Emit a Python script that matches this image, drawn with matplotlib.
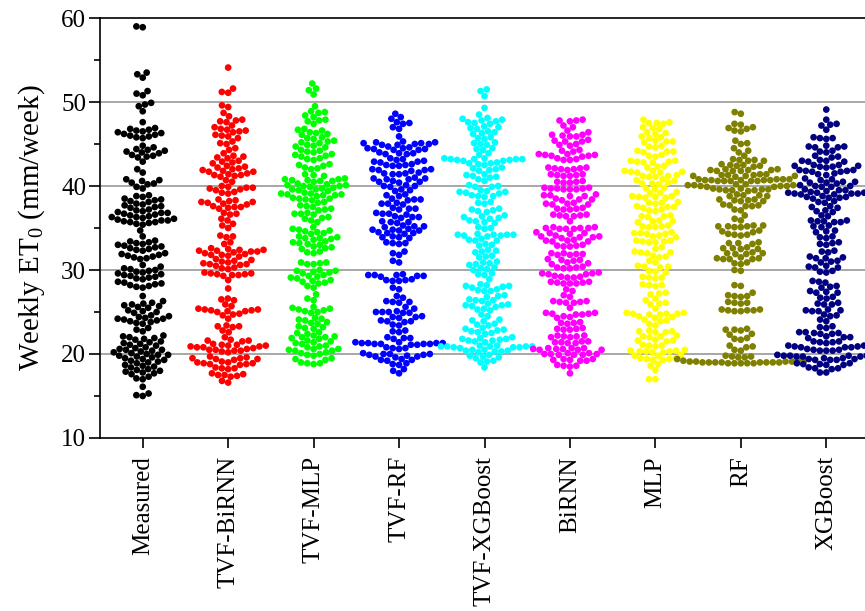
import numpy as np
import matplotlib
matplotlib.use('Agg')
import matplotlib.pyplot as plt

categories = ['Measured', 'TVF-BiRNN', 'TVF-MLP', 'TVF-RF', 'TVF-XGBoost',
              'BiRNN', 'MLP', 'RF', 'XGBoost']
colors = ['#000000', '#ff0000', '#00ff00', '#0000ff', '#00ffff',
          '#ff00ff', '#ffff00', '#808000', '#000080']

measured = [59.0, 58.9, 53.5, 53.3, 52.9, 51.3, 51.0, 50.8, 49.9, 49.7, 49.5, 48.9, 47.6,
            46.9, 46.8, 46.7, 46.6, 46.5, 46.4, 46.3, 46.2, 46.1, 46.0, 45.9, 45.8, 45.7,
            44.8, 44.6, 44.4, 44.3, 44.2, 44.1, 44.0, 43.9, 43.7, 43.6, 43.5, 43.4, 42.9,
            42.0, 41.6, 40.8, 40.7, 40.6, 40.4, 40.3, 40.2, 39.9, 39.7,
            38.9, 38.8, 38.7, 38.5, 38.4, 38.3, 38.2, 38.1, 37.9, 37.8, 37.7, 37.6, 37.5, 37.4,
            37.2, 37.1, 37.0, 36.9, 36.8, 36.8, 36.7, 36.6, 36.5, 36.4, 36.3, 36.3, 36.2,
            36.1, 36.0, 35.9, 35.9, 35.8, 35.7, 35.7, 35.6, 35.5, 35.4,
            34.7, 34.0, 33.5, 33.4, 33.3, 33.2, 33.1, 33.0, 32.9, 32.8, 32.7, 32.6, 32.5, 32.4,
            32.3, 32.0, 31.9, 31.8, 31.7, 31.6, 31.5, 31.4, 31.3, 30.6, 30.4,
            30.2, 30.1, 30.0, 29.9, 29.8, 29.7, 29.6, 29.5, 29.4, 29.3, 29.2, 29.1, 29.0, 28.9,
            28.6, 28.5, 28.4, 28.3, 28.2, 28.1, 28.0, 27.9, 26.9, 26.3, 26.1,
            26.0, 25.9, 25.8, 25.7, 25.6, 25.5, 25.2, 25.1, 25.0, 24.9,
            24.6, 24.5, 24.4, 24.3, 24.2, 24.2, 24.1, 24.0, 23.9, 23.8, 23.7, 23.6,
            23.1, 22.9, 22.7, 22.2, 22.1, 22.0, 21.9, 21.8, 21.7, 21.5, 21.4, 21.3, 21.2, 21.1, 21.0,
            20.8, 20.7, 20.6, 20.5, 20.5, 20.4, 20.3, 20.2, 20.1, 20.0, 19.9, 19.9, 19.8, 19.7,
            19.6, 19.5, 19.4, 19.3, 19.2, 19.1, 19.0, 18.9, 18.7, 18.6, 18.5, 18.4,
            18.2, 18.1, 18.0, 17.9, 17.8, 17.7, 17.6, 17.3, 17.1, 17.0, 16.1, 15.3, 15.1, 15.0]

tvf_birnn = [54.1, 51.6, 51.2, 51.1, 49.6, 49.4, 48.7, 48.3, 47.9, 47.8, 47.7, 47.6, 47.2, 47.0,
             46.8, 46.7, 46.6, 46.5, 46.4, 46.1, 46.0, 45.9, 45.7, 45.3, 45.1, 45.0, 44.5, 44.3,
             43.9, 43.6, 43.5, 43.4, 43.3, 43.0, 42.9, 42.8, 42.7, 42.4, 42.3, 42.2, 42.1, 42.0,
             41.9, 41.8, 41.7, 41.7, 41.5, 41.4, 41.3, 41.3, 41.2, 41.1, 40.7, 40.5,
             40.0, 39.9, 39.8, 39.8, 39.7, 39.6, 39.5, 39.3, 39.2, 39.1,
             38.4, 38.3, 38.2, 38.1, 38.1, 38.0, 37.9, 37.8, 37.6, 37.5, 37.5, 37.4, 37.3,
             36.8, 36.7, 36.6, 36.1, 35.9, 35.5, 35.3, 35.0, 34.1, 34.0, 33.9, 33.3, 33.1,
             32.6, 32.5, 32.4, 32.4, 32.3, 32.3, 32.2, 32.2, 32.1, 32.0,
             31.9, 31.8, 31.8, 31.7, 31.6, 31.3, 31.2, 31.1, 31.0,
             30.9, 30.8, 30.7, 30.7, 30.6, 30.5, 30.3, 30.2, 30.1,
             29.7, 29.6, 29.6, 29.5, 29.5, 29.4, 29.4, 29.3, 28.8, 27.8,
             26.6, 26.5, 26.4, 25.9, 25.7, 25.4, 25.3, 25.3, 25.2, 25.2, 25.1, 25.1, 25.0,
             24.8, 24.7, 24.6, 24.2, 23.4, 23.3, 23.3, 23.2, 22.8, 22.6, 22.0,
             21.7, 21.6, 21.6, 21.5, 21.2, 21.1, 21.1, 21.0, 21.0, 20.9, 20.9, 20.8, 20.8, 20.7,
             20.6, 20.5, 20.5, 20.4, 20.4, 20.3, 20.2,
             19.7, 19.6, 19.5, 19.5, 19.4, 19.4, 19.3, 19.1, 19.0, 19.0, 18.9, 18.9, 18.8, 18.8, 18.7,
             18.4, 18.3, 18.3, 18.2, 17.7, 17.6, 17.5, 17.5, 17.4, 17.3, 16.8, 16.6]

tvf_mlp = [52.2, 51.6, 51.4, 50.9, 49.5, 48.9, 48.8, 48.7, 48.4, 48.2, 47.9, 47.8, 47.7, 47.4,
           46.8, 46.7, 46.6, 46.4, 46.3, 46.2, 46.1, 45.8, 45.7, 45.6, 45.4, 45.3, 45.2, 45.1,
           44.9, 44.8, 44.7, 44.6, 44.3, 44.2, 44.1, 44.0, 43.8, 43.7, 43.6, 43.5, 43.3, 43.2, 43.1,
           42.6, 42.5, 42.4, 42.2, 42.1, 42.0, 41.4, 41.3, 41.2,
           40.9, 40.8, 40.8, 40.7, 40.7, 40.6, 40.6, 40.5, 40.3, 40.2, 40.1, 40.1, 40.0, 40.0, 39.9,
           39.8, 39.7, 39.6, 39.6, 39.5, 39.4, 39.2, 39.1, 39.1, 39.0, 39.0, 38.9, 38.9, 38.8,
           38.6, 38.5, 38.5, 38.4, 38.3, 38.1, 38.0, 37.7, 37.6, 37.5, 37.3, 37.2, 37.1,
           36.8, 36.7, 36.7, 36.6, 36.3, 36.2, 36.1, 35.9, 35.7, 35.1, 34.9,
           34.8, 34.7, 34.6, 34.5, 34.4, 34.3, 34.0, 33.9, 33.8, 33.8, 33.7, 33.6,
           33.4, 33.3, 33.2, 33.1, 33.0, 32.8, 32.7, 32.6, 32.5, 32.2, 32.1, 32.0,
           30.9, 30.9, 30.8, 30.7, 30.7, 30.0, 29.9, 29.9, 29.8, 29.7, 29.6,
           29.4, 29.3, 29.2, 29.1, 29.0, 28.8, 28.7, 28.6, 28.5, 28.4, 28.1, 27.9, 27.1, 26.6, 26.4,
           25.6, 25.5, 25.4, 25.3, 25.2, 25.1, 25.0, 24.9, 24.3, 24.2, 24.1, 24.0, 23.8, 23.7, 23.6,
           23.3, 23.2, 23.1, 23.0, 22.6, 22.5, 22.4, 22.2, 22.1, 22.0, 22.0, 21.9, 21.8,
           21.6, 21.5, 21.4, 21.3, 21.2, 21.0, 20.9, 20.8, 20.6, 20.6, 20.5, 20.4, 20.4,
           20.2, 20.1, 20.0, 19.9, 19.8, 19.5, 19.4, 19.3, 19.0, 18.9, 18.9, 18.8]

tvf_rf = [48.6, 48.2, 48.0, 47.6, 47.5, 47.4, 47.0, 46.8, 45.9,
          45.3, 45.2, 45.2, 45.1, 45.1, 45.0, 45.0, 44.9, 44.9,
          44.7, 44.6, 44.5, 44.5, 44.4, 44.4, 44.3, 44.3, 44.0, 43.9, 43.9, 43.8, 43.8,
          43.3, 43.2, 43.1, 43.0, 42.9, 42.9, 42.8, 42.6, 42.5, 42.5, 42.4, 42.4,
          42.0, 42.0, 41.9, 41.9, 41.8, 41.6, 41.5, 41.5, 41.4, 41.4,
          41.0, 40.9, 40.9, 40.8, 40.8, 40.6, 40.5, 40.5, 40.4, 40.1, 40.0, 40.0, 39.9,
          39.6, 39.5, 39.4, 39.0, 38.9, 38.8, 38.5, 38.4, 38.4, 38.3, 38.0, 37.9, 37.9, 37.8,
          37.4, 37.3, 37.3, 37.2, 36.8, 36.7, 36.7, 36.6, 36.4, 36.3, 36.3, 36.2,
          35.8, 35.7, 35.7, 35.6, 35.3, 35.2, 35.2, 35.1, 34.9, 34.8, 34.8, 34.7, 34.7,
          34.5, 34.4, 34.4, 34.3, 34.0, 33.9, 33.9, 33.8, 33.3, 33.2, 33.2, 33.1,
          32.2, 32.0, 31.8, 31.1, 30.9,
          29.5, 29.4, 29.4, 29.4, 29.3, 29.3, 29.2, 28.9, 28.8, 28.8, 28.7, 28.7, 27.9, 27.7,
          26.9, 26.7, 26.3, 26.2, 26.2, 26.1, 25.6, 25.4,
          25.1, 25.0, 25.0, 25.0, 24.9, 24.9, 24.5, 24.4, 24.4, 24.3, 24.0, 23.9, 23.9, 23.8,
          23.5, 23.4, 22.8, 22.7, 22.6, 22.0, 21.9, 21.9, 21.8,
          21.4, 21.4, 21.3, 21.3, 21.3, 21.3, 21.2, 21.2, 21.2, 21.2, 21.1, 21.1,
          20.8, 20.7, 20.7, 20.6, 20.1, 20.0, 20.0, 20.0, 19.9, 19.9, 19.8, 19.7, 19.7, 19.6,
          19.4, 19.3, 19.3, 19.2, 18.9, 18.8, 18.7, 18.2, 18.0, 17.7]

tvf_xgboost = [51.5, 51.3, 50.7, 49.3, 48.5, 48.1, 48.0, 47.9, 47.8, 47.7, 47.6, 47.5, 47.4,
               47.1, 47.0, 46.9, 46.8, 46.5, 46.4, 46.3, 46.2, 45.8, 45.7, 45.6,
               45.2, 45.1, 45.0, 44.9, 44.5, 44.4, 44.3, 43.9, 43.7,
               43.3, 43.3, 43.2, 43.2, 43.2, 43.2, 43.1, 43.1, 43.0, 43.0,
               42.8, 42.7, 42.7, 42.6, 42.5, 42.2, 42.1, 42.0, 41.9, 41.8,
               41.4, 41.3, 41.2, 41.1, 41.0, 40.8, 40.6, 40.1, 40.0, 39.9, 39.9,
               39.5, 39.4, 39.3, 39.3, 39.2, 39.1, 38.9, 38.8, 38.8, 38.7, 38.1, 38.0, 37.9,
               37.3, 37.2, 37.1, 37.0, 36.9, 36.5, 36.4, 36.3, 36.2, 36.1, 35.9, 35.8, 35.7, 35.6,
               35.1, 35.0, 34.9, 34.3, 34.2, 34.2, 34.2, 34.2, 34.1, 34.1, 34.0,
               33.7, 33.6, 33.5, 33.5, 33.1, 33.0, 32.9, 32.4, 32.3, 32.2, 32.1, 31.7, 31.6, 31.5,
               31.0, 30.9, 30.8, 30.7, 30.6, 30.3, 30.2, 30.1, 30.0, 29.6, 29.5, 29.4, 28.9,
               28.3, 28.2, 28.1, 28.1, 28.0, 27.9, 27.7, 27.6, 27.5, 27.5, 27.0, 26.9, 26.8,
               26.5, 26.4, 26.4, 26.3, 26.0, 25.9, 25.8, 25.8, 25.7, 25.6, 25.4, 25.3, 25.2,
               24.7, 24.5, 24.1, 24.0, 23.9, 23.6, 23.5, 23.4, 23.1, 23.0, 22.9, 22.8, 22.7,
               22.6, 22.5, 22.4, 22.0, 21.9, 21.8, 21.8, 21.7, 21.6, 21.6, 21.5, 21.4,
               21.0, 21.0, 20.9, 20.9, 20.9, 20.9, 20.9, 20.8, 20.8, 20.8, 20.7,
               20.5, 20.5, 20.4, 20.4, 20.3, 20.3, 20.2, 19.9, 19.8, 19.7, 19.6, 19.5,
               19.2, 19.1, 19.0, 18.4]

birnn = [47.9, 47.8, 47.8, 47.7, 47.2, 47.0, 46.6, 46.4, 46.1, 46.1, 46.0, 45.9, 45.9,
         45.5, 45.4, 45.3, 45.3, 45.0, 44.9, 44.8, 44.3, 44.2, 44.1,
         43.8, 43.8, 43.7, 43.7, 43.6, 43.6, 43.5, 43.3, 43.2, 43.1, 43.1,
         42.2, 42.2, 42.1, 42.1, 42.0, 42.0, 41.9, 41.4, 41.4, 41.3, 41.3, 41.2, 41.2,
         40.6, 40.5, 40.5, 40.4, 40.4,
         39.8, 39.8, 39.7, 39.7, 39.7, 39.6, 39.6, 39.6,
         39.0, 38.9, 38.9, 38.8, 38.8, 38.5, 38.4, 38.4, 38.3, 38.0, 37.9, 37.9, 37.8, 37.8,
         37.4, 37.3, 37.3, 37.2, 37.2, 36.6, 36.6, 36.5, 36.5, 36.4, 36.4, 35.8,
         35.1, 35.1, 35.0, 35.0, 35.0, 34.9, 34.9, 34.9, 34.5, 34.4, 34.4, 34.3,
         34.1, 34.0, 34.0, 33.9, 33.9, 33.8, 33.6, 33.5, 33.5, 33.4, 33.4,
         33.0, 32.9, 32.9, 32.8, 32.8, 32.0, 32.0, 31.9, 31.9, 31.8, 31.8,
         31.3, 31.2, 31.2, 31.1, 30.9, 30.8, 30.7, 30.4, 30.3, 30.3, 30.2, 30.2,
         29.7, 29.6, 29.6, 29.5, 29.5, 29.3, 29.2, 29.2, 29.1, 29.1,
         28.6, 28.6, 28.5, 28.5, 28.4, 28.4, 28.4, 27.7, 27.5, 27.0, 26.8,
         26.3, 26.3, 26.2, 26.2, 26.1, 26.1, 25.5,
         24.9, 24.9, 24.8, 24.8, 24.7, 24.7, 24.5, 24.4, 24.3, 23.8, 23.7, 23.7, 23.6,
         23.1, 23.0, 23.0, 22.9, 22.9, 22.2, 22.2, 22.1, 22.1, 22.0, 22.0,
         21.5, 21.5, 21.4, 21.4, 21.3, 21.3,
         20.7, 20.7, 20.7, 20.6, 20.6, 20.6, 20.5, 20.5, 20.5,
         20.1, 20.1, 20.0, 20.0, 20.0, 19.9, 19.9, 19.9,
         19.4, 19.4, 19.3, 19.3, 19.2, 19.2, 18.7, 18.6, 18.6, 18.5, 17.7]

mlp = [47.9, 47.6, 47.5, 47.5, 47.4, 47.0, 46.9, 46.8, 46.4, 46.3, 46.2, 45.9, 45.8, 45.7,
       45.4, 45.3, 45.3, 45.2, 44.8, 44.7, 44.6, 44.2, 44.1, 44.1, 44.0, 43.7, 43.6, 43.5,
       43.0, 43.0, 42.9, 42.9, 42.8, 42.8, 42.4, 42.3, 42.2,
       41.8, 41.8, 41.7, 41.7, 41.6, 41.6, 41.3, 41.2, 41.2, 41.1, 41.1,
       40.8, 40.7, 40.6, 40.4, 40.3, 40.3, 40.2, 39.8, 39.7, 39.6, 39.3, 39.2, 39.1,
       38.8, 38.8, 38.7, 38.7, 38.6, 38.6, 38.1, 38.0, 38.0, 37.9, 37.6, 37.5, 37.5, 37.4,
       37.2, 37.1, 37.0, 36.5, 36.4, 36.4, 36.3, 35.9, 35.8, 35.8, 35.7,
       35.3, 35.2, 35.2, 35.1, 35.1, 34.5, 34.4, 34.4, 34.3, 34.3, 34.1, 34.0, 33.9,
       33.5, 33.5, 33.4, 33.4, 33.3, 33.3, 32.7, 32.5, 32.2, 32.1, 32.1, 32.0,
       31.7, 31.6, 31.5, 31.1, 30.9, 30.5, 30.4, 30.4, 30.3, 29.9, 29.8, 29.7,
       29.2, 29.1, 29.1, 29.0, 28.3, 28.2, 28.2, 28.1, 27.3, 27.2, 27.1, 26.6, 26.4,
       26.1, 26.0, 25.9, 25.4, 24.9, 24.9, 24.8, 24.8, 24.8, 24.7, 24.7,
       24.5, 24.4, 24.3, 24.1, 24.0, 23.9, 23.6, 23.4,
       22.8, 22.7, 22.7, 22.6, 22.6, 22.2, 22.1, 22.1, 22.0, 21.7, 21.6, 21.6, 21.5,
       21.1, 21.0, 21.0, 20.9, 20.5, 20.4, 20.4, 20.3, 20.3, 20.3, 20.2, 20.2,
       19.9, 19.8, 19.8, 19.5, 19.5, 19.4, 19.4, 19.3, 19.3, 18.8, 18.6, 18.1, 17.0, 17.0]

rf = [48.8, 48.6, 47.4, 47.3, 47.0, 46.9, 46.8, 46.6, 46.5, 45.4, 45.1, 45.0, 44.5, 44.2, 44.0,
      43.6, 43.2, 43.1, 43.1, 43.0, 43.0, 42.6, 42.5, 42.5, 42.4, 42.4, 42.3,
      42.0, 42.0, 41.9, 41.9, 41.9, 41.8, 41.8, 41.8,
      41.4, 41.4, 41.3, 41.3, 41.3, 41.2, 41.2, 41.2, 41.1,
      40.8, 40.8, 40.8, 40.8, 40.7, 40.7, 40.7, 40.7, 40.7, 40.6, 40.6, 40.6, 40.6, 40.6,
      40.2, 40.2, 40.1, 40.1, 40.1, 40.0, 40.0, 40.0, 39.9, 39.9,
      39.7, 39.7, 39.6, 39.6, 39.6, 39.5, 39.5, 39.5, 39.4,
      39.0, 38.9, 38.9, 38.8, 38.8, 38.4, 38.4, 38.3, 38.3, 38.2, 38.2,
      37.8, 37.7, 37.7, 37.6, 37.6, 37.2, 37.1, 36.5, 36.1, 35.9,
      35.3, 35.3, 35.2, 35.2, 35.2, 35.1, 35.1, 34.7, 34.6, 34.5, 34.3, 34.2, 34.2, 34.1,
      33.3, 33.2, 33.2, 33.1, 32.7, 32.6, 32.6, 32.5, 32.5, 32.1, 32.0, 32.0, 31.9, 31.9,
      31.5, 31.4, 31.4, 31.3, 31.3, 31.3, 30.9, 30.8, 30.7, 30.0, 29.9,
      28.2, 28.1, 27.3, 27.0, 26.9, 26.9, 26.8, 26.2, 26.1, 26.1, 26.0,
      25.3, 25.3, 25.2, 25.2, 25.2, 25.1, 25.1,
      23.0, 22.9, 22.9, 22.8, 22.4, 22.3, 21.9, 21.8, 21.7, 21.0, 20.9, 20.8, 20.5, 20.4,
      19.8, 19.7, 19.7, 19.6, 19.6, 19.4, 19.3, 19.3, 19.2,
      19.1, 19.1, 19.1, 19.1, 19.0, 19.0, 19.0, 19.0, 19.0, 19.0, 19.0, 19.0,
      18.9, 18.9, 18.9, 18.9, 18.9]

xgboost = [49.1, 47.9, 47.4, 47.3, 47.2, 46.7, 45.8, 45.7, 45.7, 45.6,
           44.8, 44.7, 44.7, 44.6, 44.6, 44.2, 44.1, 44.0, 43.6, 43.5, 43.4,
           43.1, 43.0, 43.0, 42.9, 42.9, 42.5, 42.5, 42.4, 42.4, 42.3, 42.3, 42.2,
           41.9, 41.9, 41.8, 41.8, 41.7, 41.7, 41.5, 41.4, 41.3, 40.9, 40.8, 40.7,
           40.5, 40.5, 40.4, 40.4, 40.3, 40.1, 40.0, 40.0, 39.9, 39.9, 39.6, 39.5, 39.5, 39.4,
           39.3, 39.3, 39.2, 39.2, 39.2, 39.1, 39.1, 39.1, 39.0, 39.0,
           38.8, 38.7, 38.7, 38.6, 38.6, 38.5, 38.2, 38.1, 38.0, 37.6, 37.5, 37.4,
           37.1, 37.0, 36.9, 36.5, 36.4, 35.9, 35.9, 35.8, 35.8, 35.7, 35.7,
           35.3, 35.2, 35.1, 34.7, 34.6, 34.5, 34.0, 33.9, 33.8, 33.3, 33.2, 33.1, 33.0,
           32.3, 32.2, 32.1, 31.6, 31.5, 31.4, 31.4, 31.1, 31.0, 30.9,
           30.5, 30.4, 30.3, 30.3, 29.9, 29.8, 29.7, 28.7, 28.6, 28.5, 28.1, 28.0, 27.9,
           27.5, 27.4, 27.3, 27.3, 26.8, 26.7, 26.6, 26.1, 26.0, 25.9, 25.9,
           25.3, 25.2, 25.2, 25.1, 25.1, 24.7, 24.6, 24.5, 24.1, 23.9, 23.3, 23.2, 23.1,
           22.6, 22.6, 22.5, 22.5, 22.4, 22.4, 22.1, 22.0, 22.0, 21.9,
           21.5, 21.5, 21.4, 21.4, 21.3, 21.0, 21.0, 20.9, 20.9, 20.8, 20.8, 20.8,
           20.6, 20.5, 20.5, 20.4, 20.4, 20.4,
           19.9, 19.9, 19.8, 19.8, 19.8, 19.8, 19.7, 19.7, 19.7,
           19.5, 19.5, 19.4, 19.4, 19.3, 19.3, 19.3,
           18.9, 18.9, 18.8, 18.8, 18.7, 18.7, 18.4, 18.3, 18.3, 18.2, 17.8, 17.8]

series = [measured, tvf_birnn, tvf_mlp, tvf_rf, tvf_xgboost, birnn, mlp, rf, xgboost]

plt.rcParams['font.family'] = 'Liberation Serif'
plt.rcParams['mathtext.fontset'] = 'custom'
plt.rcParams['mathtext.rm'] = 'Liberation Serif'
plt.rcParams['mathtext.it'] = 'Liberation Serif:italic'

fig = plt.figure(figsize=(8.65, 6.11), dpi=100)
ax = fig.add_axes([100 / 865, 173 / 611, 769 / 865, 420 / 611])
ax.set_xlim(-0.5, 8.5)
ax.set_ylim(10, 60)
fig.canvas.draw()

DOT_PX = 6.7     # drawn dot diameter (pixels)
SEP_PX = 6.4     # minimum centre distance used when packing the swarm


def beeswarm(ypx, d):
    order = np.argsort(ypx, kind='stable')
    xs = np.zeros(len(ypx))
    placed = []
    for i in order:
        y = ypx[i]
        neigh = [(px, py) for (px, py) in placed if abs(py - y) < d]
        cands = [0.0]
        for px, py in neigh:
            dx = np.sqrt(max(d * d - (py - y) ** 2, 0.0))
            cands += [px - dx, px + dx]
        cands.sort(key=abs)
        for c in cands:
            ok = True
            for px, py in neigh:
                if (c - px) ** 2 + (y - py) ** 2 < d * d - 1e-6:
                    ok = False
                    break
            if ok:
                xs[i] = c
                break
        placed.append((xs[i], y))
    return xs


msize = (DOT_PX * 72 / fig.dpi) ** 2
for i, vals in enumerate(series):
    vals = np.asarray(vals, dtype=float)
    pts = ax.transData.transform(np.column_stack([np.full(len(vals), float(i)), vals]))
    offs = beeswarm(pts[:, 1], SEP_PX)
    xy = ax.transData.inverted().transform(np.column_stack([pts[:, 0] + offs, pts[:, 1]]))
    ax.scatter(xy[:, 0], vals, s=msize, c=colors[i], edgecolors='none', zorder=3)

ax.set_yticks(np.arange(10, 61, 10))
ax.set_yticks(np.arange(15, 60, 10), minor=True)
for g in [20, 30, 40, 50]:
    ax.axhline(g, color='#a0a0a0', lw=1.3, zorder=1)

ax.set_xticks(range(len(categories)))
ax.set_xticklabels(categories, rotation=90, fontsize=18)
for s in ['left', 'bottom', 'top', 'right']:
    ax.spines[s].set_linewidth(1.2)
ax.tick_params(axis='y', which='major', direction='out', length=8, width=1.2, labelsize=18, pad=2)
ax.tick_params(axis='y', which='minor', direction='out', length=4.5, width=1.2)
ax.tick_params(axis='x', which='major', direction='out', length=7, width=1.2, pad=6)
ax.set_ylabel('Weekly ET$_0$ (mm/week)', fontsize=21, labelpad=10)

fig.savefig('out.png', dpi=100)
